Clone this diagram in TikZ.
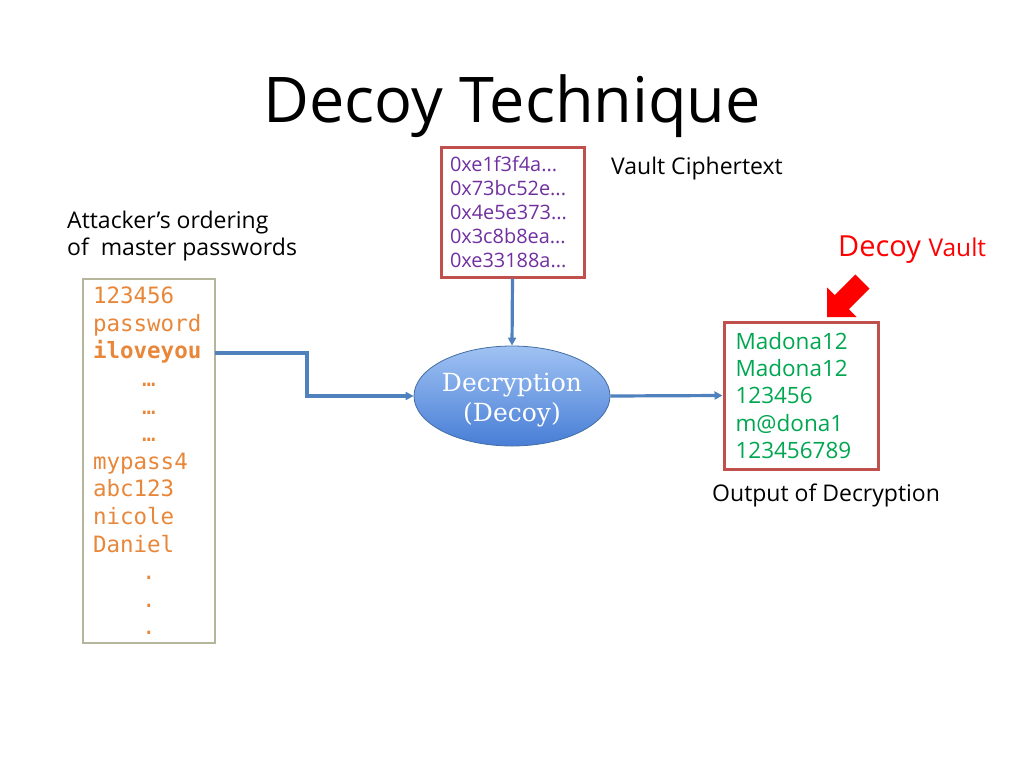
\documentclass[tikz,border=0pt]{standalone}
\usepackage{fontspec}
\setmainfont{Open Sans}
\newfontfamily\monofont{DejaVu Sans Mono}
\newfontfamily\seriffont{DejaVu Serif}
\usetikzlibrary{shapes.geometric,arrows.meta}
\definecolor{pworange}{RGB}{232,135,58}
\definecolor{ciphpurple}{RGB}{112,48,160}
\definecolor{outgreen}{RGB}{0,166,80}
\definecolor{boxred}{RGB}{192,80,77}
\definecolor{boxolive}{RGB}{181,181,156}
\definecolor{arrowblue}{RGB}{79,129,189}
\definecolor{elltop}{RGB}{160,194,243}
\definecolor{ellbot}{RGB}{72,126,214}
\tikzset{
  lbl/.style={anchor=base west, inner sep=0pt, font=\fontsize{23}{27}\selectfont},
  redbox/.style={draw=boxred, line width=3pt, inner sep=0pt, align=left},
  conn/.style={draw=arrowblue, line width=3.2pt, -{Triangle[length=8pt,width=8pt]}},
}
\begin{document}
\begin{tikzpicture}[x=1pt,y=-1pt]
\useasboundingbox (0,0) rectangle (1024,768);
% title
\node[anchor=base, inner sep=0pt, font=\fontsize{63}{68}\selectfont] (title) at (512,122) {Decoy Technique};
% ciphertext box
\node[redbox, minimum width=143pt, minimum height=130pt, text width=125pt,
      text=ciphpurple, font=\fontsize{19.9}{24}\selectfont] (ciph) at (512.5,212)
  {0xe1f3f4a...\\0x73bc52e...\\0x4e5e373...\\0x3c8b8ea...\\0xe33188a...};
\node[lbl] (vc) at (611,174) {Vault Ciphertext};
% attacker label
\node[lbl, align=left, anchor=north west, font=\fontsize{23}{27}\selectfont] (att) at (67,211) {Attacker’s ordering\\of\ \ master passwords};
% password box
\node[draw=boxolive, line width=1.2pt, minimum width=132pt, minimum height=364pt, text width=112pt,
      inner sep=0pt, align=left, text=pworange, font=\monofont\fontsize{22.5}{27.6}\selectfont] (pw) at (149,461)
  {123456\\password\\\textbf{iloveyou}\\\hspace*{49pt}…\\\hspace*{49pt}…\\\hspace*{49pt}…\\mypass4\\abc123\\nicole\\Daniel\\\hspace*{49pt}.\\\hspace*{49pt}.\\\hspace*{49pt}.};
\coordinate (pwout) at (215,353);
% decryption ellipse
\node[ellipse, draw=arrowblue!85!black, line width=0.8pt, top color=elltop, bottom color=ellbot,
      minimum width=196pt, minimum height=100pt, inner sep=0pt] (dec) at (512,396) {};
\node[align=center, text=white, inner sep=0pt, font=\seriffont\fontsize{25}{30}\selectfont]
  (dectxt) at (512,400) {Decryption\\(Decoy)};
% output box
\node[redbox, minimum width=154pt, minimum height=147pt, text width=131pt,
      text=outgreen, font=\fontsize{22.5}{27.2}\selectfont] (out) at (801,395.5)
  {Madona12\\Madona12\\123456\\m@dona1\\123456789};
\node[lbl] (odl) at (712,501) {Output of Decryption};
% decoy vault label
\node[anchor=base west, inner sep=0pt, text=red] (dv) at (838,256)
  {\fontsize{29}{32}\selectfont Decoy \fontsize{24.5}{28}\selectfont Vault};
% red block arrow
\fill[red] (827,317) -- (856.7,317) -- (848.9,309.2) -- (869.5,288.7) -- (855.3,274.5)
  -- (834.8,295.1) -- (827,287.3) -- cycle;
% connectors
\draw[conn] (pwout) -- ++(92,0) |- (dec.west);
\draw[conn] (ciph.south) -- (dec.north);
\draw[conn] (dec.east) -- (out.west);
\end{tikzpicture}
\end{document}
